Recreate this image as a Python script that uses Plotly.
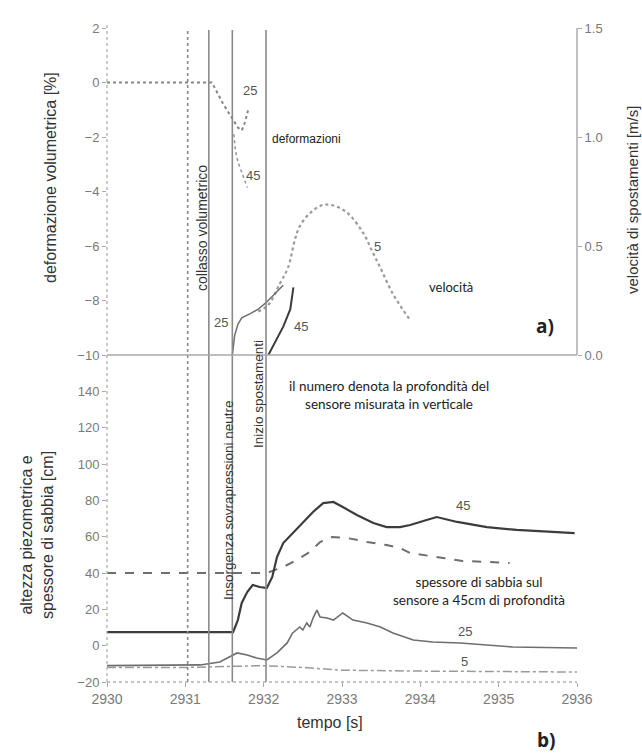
import plotly.graph_objects as go

# ---------------- data ----------------
# event lines (time, s)
event_times = [2931.03, 2931.30, 2931.60, 2932.03]
event_dash = ["dot", "solid", "solid", "solid"]

# volumetric strain [%] (upper panel, left axis)
def25_t = [2930.0, 2931.34, 2931.48, 2931.60, 2931.67, 2931.72, 2931.76, 2931.80]
def25_v = [0.0, 0.0, -0.77, -1.32, -1.65, -1.76, -1.47, -1.03]
def45_t = [2931.62, 2931.64, 2931.67, 2931.71, 2931.79]
def45_v = [-1.9, -2.5, -2.9, -3.2, -3.85]

# displacement velocity [m/s] (upper panel, right axis)
vel5_t = [2931.93, 2932.06, 2932.21, 2932.31, 2932.40, 2932.46, 2932.59, 2932.78,
          2933.04, 2933.27, 2933.38, 2933.49, 2933.65, 2933.87]
vel5_v = [0.20, 0.23, 0.33, 0.40, 0.53, 0.59, 0.65, 0.69,
          0.66, 0.56, 0.48, 0.40, 0.28, 0.16]
vel25_t = [2931.60, 2931.63, 2931.67, 2931.72, 2931.83, 2931.93, 2932.03, 2932.14, 2932.25]
vel25_v = [0.0, 0.09, 0.14, 0.17, 0.19, 0.21, 0.24, 0.28, 0.32]
vel45_t = [2932.06, 2932.14, 2932.25, 2932.34, 2932.38]
vel45_v = [0.0, 0.055, 0.13, 0.21, 0.31]

# piezometric head / sand thickness [cm] (lower panel)
p45_t = [2930.0, 2931.61, 2931.67, 2931.72, 2931.79, 2931.86, 2931.95, 2932.04, 2932.11,
         2932.17, 2932.25, 2932.37, 2932.50, 2932.63, 2932.76, 2932.89, 2933.01, 2933.19,
         2933.40, 2933.57, 2933.74, 2933.87, 2934.08, 2934.21, 2934.47, 2934.85, 2935.23,
         2935.62, 2935.97]
p45_v = [7.5, 7.5, 14.1, 23.5, 29.5, 33.4, 32.3, 31.7, 37.8,
         48.8, 56.5, 62.0, 67.5, 73.6, 78.5, 79.1, 76.3, 71.9,
         67.5, 65.3, 65.3, 66.4, 69.2, 70.8, 68.1, 65.3, 63.7,
         62.6, 62.0]
sand_t = [2930.0, 2932.04, 2932.25, 2932.42, 2932.59, 2932.72, 2932.87, 2933.06, 2933.32,
          2933.57, 2933.74, 2933.87, 2934.29, 2934.54, 2934.85, 2935.14]
sand_v = [40.0, 40.0, 43.3, 47.2, 51.6, 57.0, 59.8, 59.3, 57.1,
          55.4, 53.8, 51.0, 48.3, 46.6, 46.1, 45.5]
p25_t = [2930.0, 2931.19, 2931.44, 2931.57, 2931.66, 2931.79, 2931.91, 2932.04, 2932.17,
         2932.30, 2932.37, 2932.46, 2932.50, 2932.55, 2932.59, 2932.63, 2932.68, 2932.72,
         2932.81, 2932.89, 2933.01, 2933.14, 2933.32, 2933.49, 2933.65, 2933.91, 2934.16,
         2934.51, 2935.18, 2936.0]
p25_v = [-11.0, -10.6, -9.0, -6.2, -4.0, -5.1, -6.8, -7.9, -4.0,
         1.5, 7.0, 10.3, 8.6, 12.5, 10.3, 15.2, 19.6, 15.8,
         15.2, 14.1, 18.0, 14.1, 12.5, 10.3, 7.0, 3.1, 2.0,
         1.5, -0.7, -1.3]
p5_t = [2930.0, 2931.0, 2931.5, 2932.0, 2932.5, 2933.0, 2934.0, 2935.0, 2936.0]
p5_v = [-12.0, -12.0, -11.5, -11.0, -12.0, -13.5, -14.0, -14.2, -14.5]

x_ticks = [2930, 2931, 2932, 2933, 2934, 2935, 2936]
def_ticks = [2, 0, -2, -4, -6, -8, -10]
vel_ticks = [0.0, 0.5, 1.0, 1.5]
h_ticks = [-20, 0, 20, 40, 60, 80, 100, 120, 140]

# ---------------- figure ----------------
W, H = 642, 753
L, R, T, B = 107, 65, 20, 71
plot_w = W - L - R
plot_h = H - T - B
split = 327 / plot_h          # boundary between lower and upper panel (paper units)

def px(xp):
    return (xp - L) / plot_w

def py(yp):
    return (H - B - yp) / plot_h

DARK = "#3c3c3c"
MID = "#6e6e6e"
LIGHT = "#9a9a9a"
TICK = "#7a7a7a"

fig = go.Figure()

# upper panel: volumetric strain
fig.add_trace(go.Scatter(x=def25_t, y=def25_v, xaxis="x2", yaxis="y2", mode="lines",
                         line=dict(color="#858585", width=2, dash="dot")))
fig.add_trace(go.Scatter(x=def45_t, y=def45_v, xaxis="x2", yaxis="y2", mode="lines",
                         line=dict(color=LIGHT, width=1.6, dash="dot")))
# upper panel: velocities
fig.add_trace(go.Scatter(x=vel5_t, y=vel5_v, xaxis="x2", yaxis="y3", mode="lines",
                         line=dict(color=LIGHT, width=2.2, dash="dot", shape="spline")))
fig.add_trace(go.Scatter(x=vel25_t, y=vel25_v, xaxis="x2", yaxis="y3", mode="lines",
                         line=dict(color=MID, width=1.5)))
fig.add_trace(go.Scatter(x=vel45_t, y=vel45_v, xaxis="x2", yaxis="y3", mode="lines",
                         line=dict(color=DARK, width=2)))
# lower panel
fig.add_trace(go.Scatter(x=p5_t, y=p5_v, xaxis="x", yaxis="y", mode="lines",
                         line=dict(color=LIGHT, width=1.5, dash="dashdot")))
fig.add_trace(go.Scatter(x=sand_t, y=sand_v, xaxis="x", yaxis="y", mode="lines",
                         line=dict(color=MID, width=2, dash="dash")))
fig.add_trace(go.Scatter(x=p25_t, y=p25_v, xaxis="x", yaxis="y", mode="lines",
                         line=dict(color=MID, width=1.6)))
fig.add_trace(go.Scatter(x=p45_t, y=p45_v, xaxis="x", yaxis="y", mode="lines",
                         line=dict(color=DARK, width=2.2)))

# event lines across both panels
shapes = []
for t, d in zip(event_times, event_dash):
    shapes.append(dict(type="line", xref="x", yref="paper", x0=t, x1=t,
                       y0=0, y1=py(30), line=dict(color="#8a8a8a", width=1.6, dash=d)))
# dotted axis frame lines
shapes.append(dict(type="line", xref="paper", yref="paper", x0=0, x1=0, y0=0, y1=py(22),
                   line=dict(color="#b0b0b0", width=1.3, dash="dot")))
shapes.append(dict(type="line", xref="paper", yref="paper", x0=0, x1=1, y0=0, y1=0,
                   line=dict(color="#b0b0b0", width=1.3, dash="dot")))
shapes.append(dict(type="line", xref="paper", yref="paper", x0=0, x1=1, y0=split, y1=split,
                   line=dict(color="#a8a8a8", width=1.3)))
shapes.append(dict(type="line", xref="paper", yref="paper", x0=1, x1=1, y0=split, y1=py(28),
                   line=dict(color="#a0a0a0", width=1.3)))

tick_font = dict(family="Liberation Sans, Arial, sans-serif", size=13, color=TICK)

def_top = 2 + 8 / 27.25
fig.update_layout(
    width=W, height=H,
    margin=dict(l=L, r=R, t=T, b=B, pad=0),
    paper_bgcolor="white", plot_bgcolor="white",
    showlegend=False,
    shapes=shapes,
    xaxis=dict(domain=[0, 1], range=[2930, 2936], anchor="y",
               tickvals=x_ticks, ticktext=[str(v) for v in x_ticks],
               ticks="outside", ticklen=4, tickcolor="#aaa", tickfont=dict(tick_font, size=14),
               showgrid=False, zeroline=False, showline=False),
    xaxis2=dict(domain=[0, 1], range=[2930, 2936], anchor="y2", matches="x",
                showticklabels=False, ticks="", showgrid=False, zeroline=False, showline=False),
    yaxis=dict(domain=[0, split], range=[-20, 160], anchor="x",
               tickvals=h_ticks, ticktext=[f"{v:d}".replace("-", "\u2212") for v in h_ticks],
               ticks="outside", ticklen=4, tickcolor="#aaa", tickfont=tick_font,
               showgrid=False, zeroline=False, showline=False),
    yaxis2=dict(domain=[split, 1], range=[-10, def_top], anchor="x2",
                tickvals=def_ticks, ticktext=[f"{v:d}".replace("-", "\u2212") for v in def_ticks],
                ticks="outside", ticklen=4, tickcolor="#aaa", tickfont=tick_font,
                showgrid=False, zeroline=False, showline=False),
    yaxis3=dict(overlaying="y2", side="right", anchor="x2",
                range=[0, 1.5 * (def_top + 10) / 12],
                tickvals=vel_ticks, ticktext=[f"{v:.1f}" for v in vel_ticks],
                ticks="outside", ticklen=4, tickcolor="#aaa", tickfont=tick_font,
                showgrid=False, zeroline=False, showline=False),
)

ann = []
def text(x, y, s, size=13, color="#222", angle=0, family="Lato, Open Sans, sans-serif",
         xanchor="center", yanchor="middle", xref="paper", yref="paper"):
    ann.append(dict(x=x, y=y, xref=xref, yref=yref, text=s, showarrow=False,
                    textangle=angle, xanchor=xanchor, yanchor=yanchor,
                    font=dict(family=family, size=size, color=color)))

AX = "Liberation Sans, Arial, sans-serif"
# axis titles
text(px(50), py(178), "deformazione volumetrica [%]", size=16, color="#333", angle=-90, family=AX)
text(px(37), py(535), "altezza piezometrica e<br>spessore di sabbia [cm]", size=16,
     color="#333", angle=-90, family=AX)
text(px(633), py(200), "velocità di spostamenti [m/s]", size=15, color="#333", angle=-90, family=AX)
text(px(330), py(722), "tempo [s]", size=16, color="#333", family=AX)
text(px(545), py(326), "<b>a)</b>", size=19, color="#222", family="Open Sans, sans-serif")
text(px(546), py(740), "<b>b)</b>", size=19, color="#222", family="Open Sans, sans-serif")

# event captions
text(px(202), py(228), "collasso volumetrico", size=14, angle=-90, family=AX, color="#333")
text(px(228), py(500), "Insorgenza sovrapressioni neutre", size=13.5, angle=-90, family=AX, color="#333")
text(px(258), py(394), "Inizio spostamenti", size=13.5, angle=-90, family=AX, color="#333")

# descriptive notes
text(px(270), py(139), "deformazioni", size=12, xanchor="left", family=AX)
text(px(427), py(287), "velocità", size=13, xanchor="left")
text(px(287), py(395), "il numero denota la profondità del<br>sensore misurata in verticale",
     size=13.5, xanchor="left")
text(px(391), py(591), "spessore di sabbia sul<br>sensore a 45cm di profondità",
     size=13.5, xanchor="left")

# depth labels on curves
LBL = dict(size=13, color="#555", family=AX)
text(2931.82, -0.3, "25", xref="x2", yref="y2", **LBL)
text(2931.86, -3.4, "45", xref="x2", yref="y2", **LBL)
text(2931.46, 0.15, "25", xref="x2", yref="y3", **LBL)
text(2932.48, 0.13, "45", xref="x2", yref="y3", **LBL)
text(2933.45, 0.50, "5", xref="x2", yref="y3", **LBL)
text(2934.54, 77, "45", xref="x", yref="y", **LBL)
text(2934.57, 8, "25", xref="x", yref="y", **LBL)
text(2934.57, -8.5, "5", xref="x", yref="y", **LBL)

fig.update_layout(annotations=ann)
fig.write_html("out.html")
